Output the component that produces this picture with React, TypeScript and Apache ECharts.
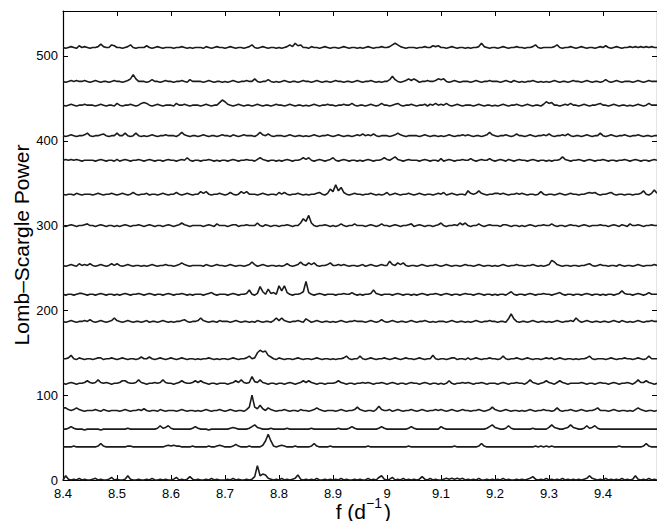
import { useEffect, useRef } from "react";
import * as echarts from "echarts";

// Frequency grid of every periodogram (d^-1)
const F_MIN = 8.4;
const F_MAX = 9.5;
const F_STEP = 0.005;

const X_TICKS = [8.4, 8.5, 8.6, 8.7, 8.8, 8.9, 9.0, 9.1, 9.2, 9.3, 9.4];
const Y_TICKS = [0, 100, 200, 300, 400, 500];
const Y_MAX = 553;

// Vertical offset applied to each stacked periodogram (bottom to top)
const OFFSETS = [0, 37, 58, 80, 112, 141, 185, 217, 251, 298, 335, 375, 404, 440, 468, 508];

// Lomb-Scargle power above each offset: one base-36 digit per 0.005 d^-1 step,
// starting at 8.4 d^-1 (spaces only group the digits in blocks of ten).
const SPECTRA = [
  "0510102010 0120100130 1001510010 0102001010 0130101410 1001020100 0102010010 14h5762101 0201012610 1010200101 0102010010 1002010351 0130102010 1014102010 0121212120 1010200101 0102010010 1012410102 0101020101 0101252101 0201010201 0151010201 0",
  "2222322222 2223632222 2222332222 2222222234 3433222232 2222322343 2223532223 222249h932 3432223222 2236322223 2222222222 2223222222 2222222232 2222222222 2222232222 2222363222 2222222222 2222232323 2322222222 2222222222 2222223222 2222236322 2",
  "2235322212 2222122222 2222322222 2222236346 3222222235 3222122222 2234322223 5743222322 2223222222 2232222222 2232223532 2222222353 2222222235 3222222222 5322222222 2222222357 4322363222 2222322222 4743223474 3223634632 2222222222 2222222222 2",
  "5532353212 2232132122 2123212232 4212213212 2212321221 2123212232 1232122136 k648425321 2232122132 2123532122 2123212236 3212213732 2312321223 2123212232 3212321232 2122321236 3212321221 2123212232 2125212232 1232122352 2212321221 2135321221 2",
  "2123212235 3236323212 2355322363 2122323632 2123532235 3532122122 2123536323 a436321221 2212321235 3532122122 2353212212 2323212232 1232122123 2212321221 2125212232 3212232122 2123212232 2136321235 3213532122 2232122123 2212321223 2136335321 2",
  "2236213212 2123312232 1232122124 2242123212 3212321221 2122321212 2123212235 239cab6421 3212212321 2212321221 2122352122 5212321223 2123212322 1232122621 2212331221 3123212232 2125212232 1232122123 2312321221 2122352122 2123212232 2123212522 2",
  "2123212232 4212321236 3212321221 2312212321 2122342122 3632122132 2212321221 2132122136 3632122321 5312321221 2123212232 2212321242 1232122123 2122321212 2212321221 2123212232 212215b521 2212321221 2123212232 6312321221 2212321321 2123212232 2",
  "2122123321 2212321221 2123212232 1232122123 2122321212 2212342122 2123212237 213b528342 c6c4212235 h421232122 2122322421 2122373212 2212321221 2123212232 1232122123 2212321221 2122135212 2123212232 2123421221 2212321221 2122123632 2123212422 2",
  "2123214232 4212321242 4212321221 2123212232 2123532122 2213212322 1232122123 6312321221 2124212363 2535212235 2232321221 2312321232 2732535212 2123212232 1232122123 2212321221 2123212232 2122321212 3863212212 2122342123 2212213212 2123212223 2",
  "2123212234 2212321221 2123212232 1232122123 2123532122 2212321422 2123312232 2252132122 122321225a 7e52122321 2124212242 2212321242 2123212234 1232122123 5212232535 2122421232 2213321221 2123212232 2421221232 2123212223 2212321321 4223212232 2",
  "2122132122 2123212232 1232124212 2312212321 2242123212 2535212232 1242125352 2212321221 4242122321 2122342138 5d6a421232 2122321212 4123212232 1232122123 2412321221 6323632122 3323212232 3212212521 2212321232 2122343421 2234212212 2122362137 3",
  "2323232122 2212321221 3123212232 1232122123 2212325212 2122321212 2123212232 2135321221 2123212235 3521232123 5212321221 2123212235 3246321232 2212321221 4123212232 2421232242 1232132123 2212321221 2122363212 2321232122 3212212232 1232122123 2",
  "2123212235 2122342122 5225212521 2123212232 2213632122 1232122123 2213212322 2136324212 2212321221 2123212232 1232122123 2423242122 2123532122 2212321221 2123212232 3212212363 2122321242 2123212232 4212232421 2212321225 2123212232 1223212212 2",
  "2123212232 2212321221 4212232124 5421232122 2142232122 2123212258 6321232122 1232122123 2212321221 2123212232 2122322421 2212321242 2123421223 2122313242 3242123212 2212321221 2123212232 1232122136 4522123242 2123212234 2212321221 2123212422 2",
  "2123232232 1232122123 221235a522 2124221232 2122321422 2212321221 2123212232 2521224212 1232122123 2212321221 2322122123 2122321212 2484212353 5312232235 4521232122 2123212232 2212321321 2122321212 1232122123 2212321221 2421232122 2123212322 2",
  "2123214232 1223632254 2212352122 2421232122 2122321212 2213212322 1232122123 5212321221 2123537452 2132212321 2212321221 2123212232 2357532122 2122322434 2212321221 2122373212 2123212232 2122352122 2235212232 1232122123 2421232122 3232323232 2",
];

const FONT = "'Liberation Sans', Arial, Helvetica, sans-serif";
const INK = "#1b1b1b";

function decode(spec: string, offset: number): [number, number][] {
  const digits = spec.replace(/\s+/g, "");
  return Array.from(digits, (c, i) => {
    const f = +(F_MIN + i * F_STEP).toFixed(3);
    return [f, offset + parseInt(c, 36)] as [number, number];
  });
}

export default function App() {
  const ref = useRef<HTMLDivElement>(null);

  useEffect(() => {
    if (!ref.current) return;
    const chart = echarts.init(ref.current, undefined, { renderer: "svg" });

    const axisLine = { show: true, onZero: false, lineStyle: { color: "#000", width: 1.2 } };
    const tickStyle = { color: "#000", width: 1 };

    const series = SPECTRA.map((spec, k) => ({
      type: "line" as const,
      data: decode(spec, OFFSETS[k]),
      showSymbol: false,
      symbol: "none",
      silent: true,
      clip: true,
      lineStyle: { color: INK, width: 1.6 },
      z: 2,
    }));

    chart.setOption({
      animation: false,
      backgroundColor: "#fff",
      grid: { left: 63, top: 11, width: 595, height: 469, containLabel: false },
      xAxis: [
        {
          type: "value",
          position: "bottom",
          min: F_MIN,
          max: F_MAX,
          axisLine,
          axisTick: { show: true, inside: true, length: 5, customValues: X_TICKS, lineStyle: tickStyle },
          axisLabel: {
            customValues: X_TICKS,
            formatter: (v: number) => String(+v.toFixed(1)),
            color: "#000",
            fontSize: 13,
            lineHeight: 13,
            fontFamily: FONT,
            margin: 7,
          },
          splitLine: { show: false },
        },
        {
          type: "value",
          position: "top",
          min: F_MIN,
          max: F_MAX,
          axisLine,
          axisTick: { show: true, inside: true, length: 5, customValues: X_TICKS, lineStyle: tickStyle },
          axisLabel: { show: false },
          splitLine: { show: false },
        },
      ],
      yAxis: [
        {
          type: "value",
          position: "left",
          min: 0,
          max: Y_MAX,
          axisLine,
          axisTick: { show: true, inside: true, length: 5, customValues: Y_TICKS, lineStyle: tickStyle },
          axisLabel: {
            customValues: Y_TICKS,
            color: "#000",
            fontSize: 13,
            lineHeight: 13,
            fontFamily: FONT,
            margin: 5,
          },
          splitLine: { show: false },
        },
        {
          type: "value",
          position: "right",
          min: 0,
          max: Y_MAX,
          axisLine,
          axisTick: { show: true, inside: true, length: 5, customValues: Y_TICKS, lineStyle: tickStyle },
          axisLabel: { show: false },
          splitLine: { show: false },
        },
      ],
      series,
      graphic: [
        {
          type: "text",
          x: 21,
          y: 245,
          rotation: Math.PI / 2,
          style: {
            text: "Lomb–Scargle Power",
            fontSize: 21,
            fontFamily: FONT,
            fill: "#000",
            align: "center",
            verticalAlign: "middle",
          },
        },
        {
          type: "text",
          x: 366,
          y: 511,
          style: {
            text: "f (d",
            fontSize: 21,
            lineHeight: 18,
            fontFamily: FONT,
            fill: "#000",
            align: "right",
            verticalAlign: "middle",
          },
        },
        {
          type: "text",
          x: 366,
          y: 503,
          style: {
            text: "−1",
            fontSize: 14,
            lineHeight: 11,
            fontFamily: FONT,
            fill: "#000",
            align: "left",
            verticalAlign: "middle",
          },
        },
        {
          type: "text",
          x: 384,
          y: 511,
          style: {
            text: ")",
            fontSize: 21,
            lineHeight: 18,
            fontFamily: FONT,
            fill: "#000",
            align: "left",
            verticalAlign: "middle",
          },
        },
      ],
    });

    return () => chart.dispose();
  }, []);

  return (
    <div
      ref={ref}
      style={{ position: "absolute", left: 0, top: 0, width: 657, height: 521 }}
    />
  );
}
